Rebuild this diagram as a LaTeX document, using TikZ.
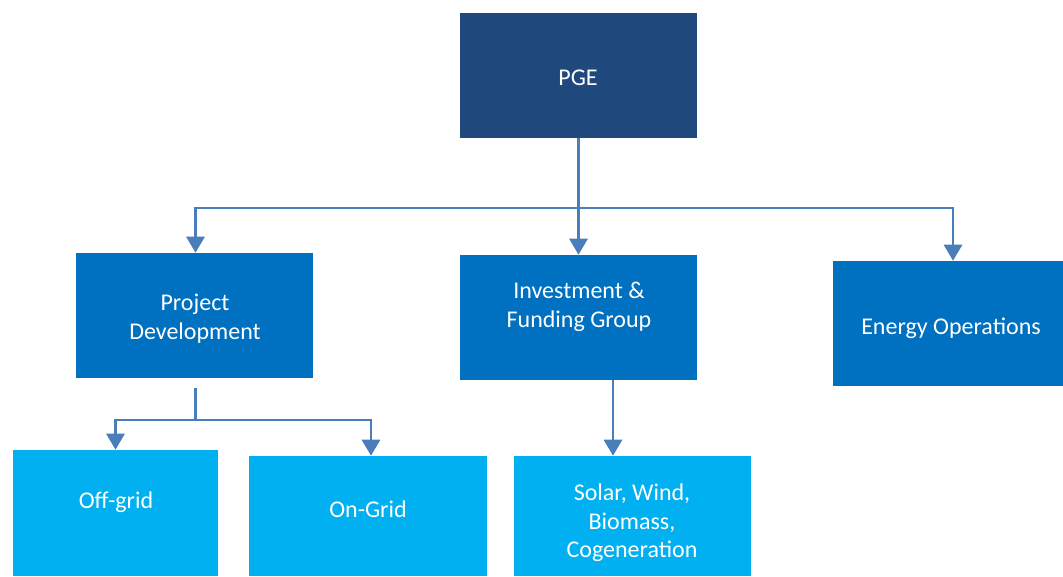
\documentclass[tikz,border=0pt]{standalone}
\usepackage{fontspec}
\setmainfont{Carlito}
\usepackage{tikz}
\usetikzlibrary{arrows.meta}

\definecolor{pgeblue}{RGB}{31,73,125}
\definecolor{unitblue}{RGB}{0,112,192}
\definecolor{subblue}{RGB}{0,176,240}
\definecolor{linkblue}{RGB}{74,126,187}

\tikzset{
    orgbox/.style={rectangle, inner sep=0pt},
    boxtext/.style={inner sep=0pt, text=white, align=center,
        font=\fontsize{18}{21.5}\selectfont},
    link/.style={draw=linkblue, line width=2.2pt},
    flow/.style={link, -{Triangle[width=13.5pt, length=12pt]}},
}

\begin{document}
\begin{tikzpicture}[x=0.75pt, y=-0.75pt]
    \useasboundingbox (0,0) rectangle (1063,576);
    \clip (0,0) rectangle (1063,576);

    % top level
    \node[orgbox, fill=pgeblue, minimum width=177.75pt, minimum height=93.75pt] (pge) at (578.5,75.5) {};
    \node[boxtext] (pgetext) at (578,78) {PGE};

    % second level
    \node[orgbox, fill=unitblue, minimum width=177.75pt, minimum height=93.75pt] (pd) at (194.5,315.5) {};
    \node[boxtext] (pdtext) at (195,319) {Project\\Development};
    \node[orgbox, fill=unitblue, minimum width=177.75pt, minimum height=93.75pt] (inv) at (578.5,317.5) {};
    \node[boxtext] (invtext) at (579,307) {Investment \&\\Funding Group};
    \node[orgbox, fill=unitblue, minimum width=172.5pt, minimum height=93.75pt] (eo) at (948,323.5) {};
    \node[boxtext] (eotext) at (951,328) {Energy Operations};

    % third level
    \node[orgbox, fill=subblue, minimum width=153.75pt, minimum height=94.5pt] (off) at (115.5,513) {};
    \node[boxtext] (offtext) at (116,502) {Off-grid};
    \node[orgbox, fill=subblue, minimum width=178.5pt, minimum height=90pt] (on) at (368,516) {};
    \node[boxtext] (ontext) at (368,509) {On-Grid};
    \node[orgbox, fill=subblue, minimum width=177.75pt, minimum height=90pt] (solar) at (632.5,516) {};
    \node[boxtext] (solartext) at (632,523) {Solar, Wind,\\Biomass,\\Cogeneration};

    \coordinate (bar) at (578.5,208);
    \coordinate (pdfork) at (195.5,420);
    \coordinate (invdrop) at (613,380);

    \draw[flow] (pge.south) -- (inv.north);
    \draw[flow] (bar) -| ([xshift=0.75pt]pd.north);
    \draw[flow] (bar) -| ([xshift=3.75pt]eo.north);

    \draw[link] ([yshift=-7.5pt]pdfork |- pd.south) -- (pdfork);
    \draw[flow] (pdfork) -| (off.north);
    \draw[flow] (pdfork) -| ([xshift=2.25pt]on.north);

    \draw[flow] (invdrop) -- (invdrop |- solar.north);
\end{tikzpicture}
\end{document}
